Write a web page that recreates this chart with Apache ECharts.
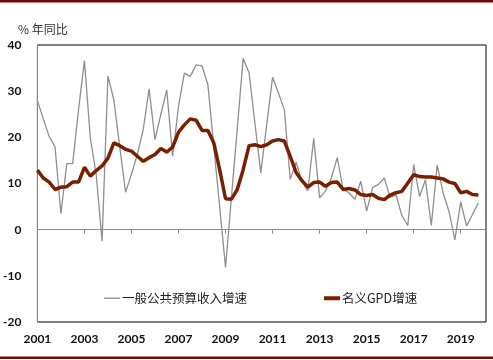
<!DOCTYPE html>
<html>
<head>
<meta charset="utf-8">
<script src="https://cdn.jsdelivr.net/npm/echarts@6/dist/echarts.min.js"></script>
<style>html,body{margin:0;padding:0;background:#fff}#c{width:493px;height:360px}</style>
</head>
<body>
<div id="c"></div>
<script>
// Quarterly data, 2001Q1 .. 2019Q4 (index 0 = 2001Q1)
const startYear = 2001;
const yTicks = [-20, -10, 0, 10, 20, 30, 40];
const revenueName = '一般公共预算收入增速';
const gdpName = '名义GPD增速';
const revenueGrowth = [
  28, 24, 20.2, 17.9, 3.5, 14.3, 14.3, 26, 36.6, 19.9, 12, -2.5,
  33.3, 28.1, 18, 8.1, 12, 16.3, 21.7, 30.5, 19.5, 25, 30.3, 15.9,
  26.7, 33.9, 33.2, 35.7, 35.5, 31.4, 18, 5, -8.2, 6.9, 22, 37.1,
  34, 23, 12.3, 22.7, 33, 29.6, 26, 10.9, 14.6, 10.5, 8.4, 19.8,
  6.9, 8.4, 11.2, 15.6, 8.7, 8.0, 6.6, 10.5, 4.0, 9.1, 9.8, 11.2,
  7, 7.5, 3, 0.9, 14.1, 7.2, 10.8, 0.9, 14, 8, 4, -2.2,
  6, 0.8, 3.3, 5.8
];
const gdpGrowth = [
  12.9, 11.2, 10.3, 8.7, 9.2, 9.3, 10.3, 10.3, 13.5, 11.6, 12.8, 13.8,
  15.5, 18.8, 18.2, 17.4, 17.0, 15.9, 14.8, 15.6, 16.3, 17.6, 16.8, 17.9,
  21.1, 22.7, 24.0, 23.7, 21.5, 21.5, 18.8, 13.0, 6.7, 6.6, 8.7, 13,
  18.2, 18.4, 18.0, 18.4, 19.2, 19.5, 19.2, 15.9, 12.4, 10.6, 9.2, 10.2,
  10.3, 9.4, 10.2, 10.3, 8.7, 8.9, 8.6, 7.6, 7.4, 7.6, 6.8, 6.5,
  7.5, 8.0, 8.3, 10.1, 11.9, 11.5, 11.4, 11.4, 11.2, 11.0, 10.3, 10.0,
  8.0, 8.3, 7.6, 7.5
];

const toPairs = arr => arr.map((v, i) => [i, v]);
const labelFmt = v => (Math.abs(v % 8) < 1e-9 ? String(startYear + v / 4) : '');
const font = 'Lato, "Liberation Sans", sans-serif';
const cjk = '"Noto Sans CJK SC", sans-serif';
const legendText = {fontFamily: cjk, fontSize: 12.5, color: '#222', padding: [0, 0, 0, -3]};

const chart = echarts.init(document.getElementById('c'), null, {renderer: 'canvas'});
chart.setOption({
  animation: false,
  backgroundColor: '#fff',
  grid: {left: 33.5, right: 7, top: 45, bottom: 38, show: true, borderColor: '#000', borderWidth: 1, backgroundColor: 'transparent'},
  title: {text: '% 年同比', left: 13, top: 18, textStyle: {fontFamily: cjk, fontSize: 12, fontWeight: 'normal', color: '#333'}},
  legend: [
    {left: 99, top: 287, height: 16, itemWidth: 16, itemHeight: 1.3, icon: 'rect', textStyle: legendText,
     data: [{name: revenueName, itemStyle: {color: '#8f8f8f'}}]},
    {left: 319, top: 287, height: 16, itemWidth: 16, itemHeight: 4, icon: 'rect', textStyle: legendText,
     data: [{name: gdpName, itemStyle: {color: '#7a1e00'}}]}
  ],
  xAxis: [
    {type: 'value', min: 0, max: 76.3, interval: 8, position: 'bottom',
     axisLine: {show: false, onZero: false}, axisTick: {show: false}, splitLine: {show: false},
     axisLabel: {formatter: labelFmt, margin: 11, fontFamily: font, fontSize: 12, fontWeight: 'bold', color: '#111', showMaxLabel: false}},
    {type: 'value', min: 0, max: 76.3, interval: 8, position: 'bottom',
     axisLine: {show: true, onZero: true, onZeroAxisIndex: 0, lineStyle: {color: '#8c8c8c', width: 1}},
     axisTick: {show: true, length: 4, lineStyle: {color: '#8c8c8c'}},
     axisLabel: {show: false}, splitLine: {show: false}}
  ],
  yAxis: {
    type: 'value', min: yTicks[0], max: yTicks[yTicks.length - 1], interval: 10,
    axisLine: {show: true, lineStyle: {color: '#8c8c8c'}}, axisTick: {show: false}, splitLine: {show: false},
    axisLabel: {margin: 16, fontFamily: font, fontSize: 12, fontWeight: 'bold', color: '#111'}
  },
  graphic: [
    {type: 'rect', shape: {x: 0, y: 0, width: 493, height: 2.5}, style: {fill: '#6e0a0a'}},
    {type: 'rect', shape: {x: 0, y: 356.5, width: 493, height: 2.5}, style: {fill: '#6e0a0a'}}
  ],
  series: [
    {name: revenueName, type: 'line', xAxisIndex: 0, data: toPairs(revenueGrowth), symbol: 'none',
     lineStyle: {color: '#8f8f8f', width: 1.3}, itemStyle: {color: '#8f8f8f'}, z: 2},
    {name: gdpName, type: 'line', xAxisIndex: 0, data: toPairs(gdpGrowth), symbol: 'none',
     lineStyle: {color: '#7a1e00', width: 3.5}, itemStyle: {color: '#7a1e00'}, z: 3}
  ]
});
</script>
</body>
</html>
